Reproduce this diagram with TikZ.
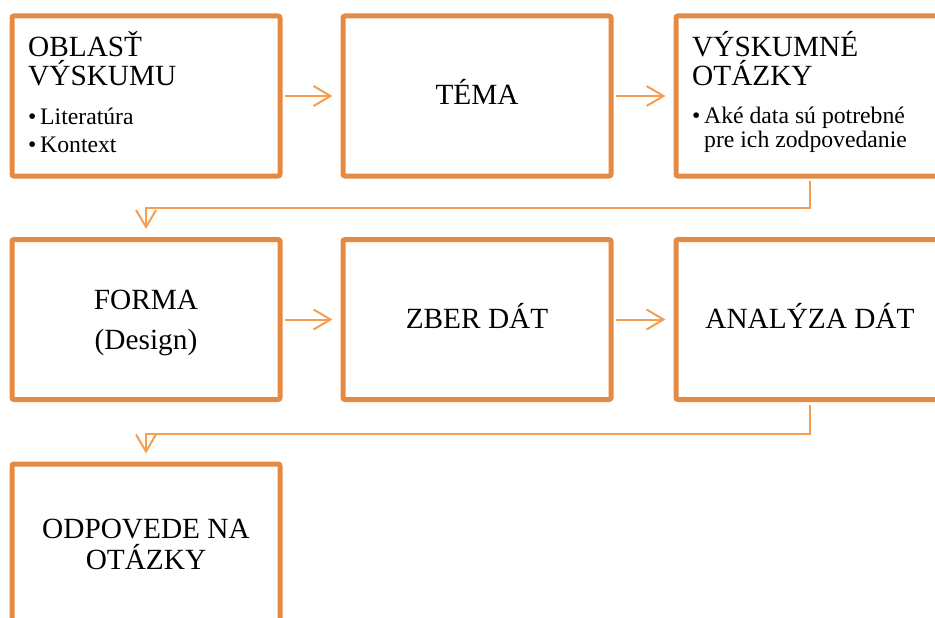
\documentclass[tikz,border=0pt]{standalone}
\usepackage{fontspec}
\setmainfont{Liberation Serif}
\usepackage{xcolor}
\usetikzlibrary{arrows.meta,positioning}
\definecolor{boxorange}{RGB}{228,138,66}
\definecolor{linkorange}{RGB}{245,158,82}
\tikzset{
  stage/.style={draw=boxorange, line width=5pt, rounded corners=2pt,
    minimum width=268pt, minimum height=160pt, inner sep=0pt,
    align=center, font=\fontsize{29.3}{29}\selectfont},
  oneline/.style={text height=17.5pt, text depth=0pt},
  headtext/.style={anchor=base west, align=left, inner sep=0pt,
    font=\fontsize{29.3}{29}\selectfont},
  itemtext/.style={anchor=base west, align=left, inner sep=0pt,
    font=\fontsize{23.7}{23.5}\selectfont},
  flow/.style={draw=linkorange, line width=2pt,
    -{Straight Barb[length=17pt,width=20pt]}, shorten <=2.5pt, shorten >=8pt},
}
\newcommand{\itemdot}{\makebox[12pt][l]{\textbullet}}

\begin{document}
\begin{tikzpicture}[x=1pt,y=-1pt]
\useasboundingbox (0,0) rectangle (935,618);
\clip (0,0) rectangle (935,618);
% stages
\node[stage] (oblast) at (146,96) {};
\node[stage, oneline] (tema) at (477,96) {TÉMA};
\node[stage] (otazky) at (810,96) {};
\node[stage, text depth=0pt] (forma) at (146,319.5) {FORMA\\[11pt](Design)};
\node[stage, oneline] (zber) at (477,319.5) {ZBER DÁT};
\node[stage, oneline] (analyza) at (810,319.5) {ANALÝZA DÁT};
\node[stage] (odpovede) at (146,544) {ODPOVEDE NA\\[2pt]OTÁZKY};
% left aligned texts (anchored at the last line)
\node[headtext] (oblast head) at (28,85) {OBLASŤ\\VÝSKUMU};
\node[itemtext] (oblast items) at (28,152) {\itemdot Literatúra\\[4pt]\itemdot Kontext};
\node[headtext] (otazky head) at (692,85) {VÝSKUMNÉ\\OTÁZKY};
\node[itemtext] (otazky items) at (692,147) {\itemdot Aké data sú potrebné\\\hspace*{12pt}pre ich zodpovedanie};
% connectors
\draw[flow] (oblast) -- (tema);
\draw[flow] (tema) -- (otazky);
\draw[flow] (otazky.south) -- ++(0,29) -| (forma.north);
\draw[flow] (forma) -- (zber);
\draw[flow] (zber) -- (analyza);
\draw[flow] (analyza.south) -- ++(0,31.5) -| (odpovede.north);
\end{tikzpicture}
\end{document}
